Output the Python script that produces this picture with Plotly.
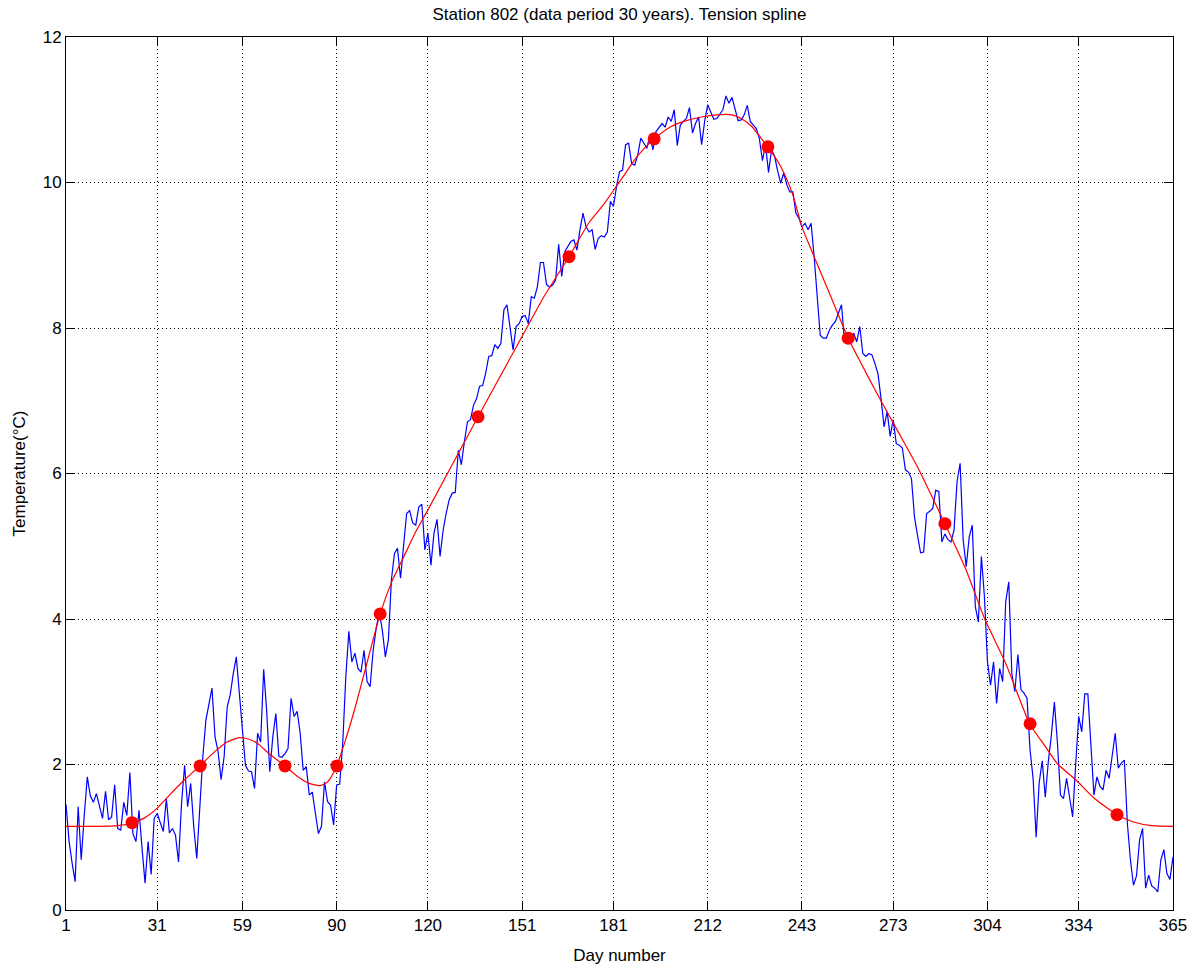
import plotly.graph_objects as go

# Daily temperatures (day 1..365)
daily_temp = [
    1.45, 0.95, 0.65, 0.39, 1.42, 0.69, 1.30, 1.83, 1.57, 1.48,
    1.60, 1.42, 1.26, 1.63, 1.24, 1.28, 1.72, 1.12, 1.10, 1.48,
    1.30, 1.89, 1.05, 0.94, 1.37, 0.85, 0.37, 0.94, 0.49, 1.26,
    1.33, 1.20, 1.08, 1.53, 1.06, 1.12, 1.03, 0.66, 1.47, 1.99,
    1.42, 1.74, 1.15, 0.71, 1.38, 2.11, 2.61, 2.84, 3.05, 2.38,
    2.18, 1.79, 2.11, 2.79, 2.96, 3.25, 3.48, 2.98, 2.45, 1.99,
    1.91, 1.90, 1.67, 2.43, 2.31, 3.31, 2.73, 1.90, 2.38, 2.70,
    2.11, 2.10, 2.15, 2.22, 2.91, 2.66, 2.73, 2.43, 1.92, 1.97,
    1.58, 1.62, 1.33, 1.05, 1.15, 1.76, 1.49, 1.44, 1.17, 1.72,
    1.73, 2.30, 3.20, 3.83, 3.41, 3.53, 3.32, 3.27, 3.57, 3.14,
    3.07, 3.57, 3.87, 4.10, 3.85, 3.48, 3.71, 4.54, 4.90, 4.97,
    4.56, 4.97, 5.45, 5.49, 5.32, 5.29, 5.54, 5.58, 4.95, 5.18,
    4.74, 5.18, 5.37, 4.86, 5.22, 5.45, 5.64, 5.73, 5.74, 6.32,
    6.12, 6.44, 6.71, 6.74, 6.94, 7.03, 7.20, 7.21, 7.38, 7.61,
    7.62, 7.77, 7.72, 7.79, 8.25, 8.32, 8.00, 7.70, 8.02, 8.06,
    8.16, 8.17, 8.06, 8.43, 8.41, 8.57, 8.90, 8.90, 8.60, 8.56,
    8.59, 8.66, 9.15, 8.71, 9.05, 9.12, 9.19, 9.21, 9.07, 9.35,
    9.58, 9.39, 9.32, 9.35, 9.08, 9.23, 9.27, 9.25, 9.32, 9.74,
    9.67, 9.94, 10.15, 10.17, 10.52, 10.54, 10.26, 10.24, 10.38, 10.61,
    10.54, 10.47, 10.65, 10.45, 10.70, 10.75, 10.81, 10.76, 10.90, 10.84,
    11.00, 10.51, 10.79, 10.84, 10.88, 11.03, 10.68, 10.81, 10.90, 10.52,
    10.84, 11.07, 10.97, 10.87, 10.88, 10.95, 11.00, 11.19, 11.09, 11.17,
    11.00, 10.85, 10.86, 10.93, 11.06, 10.84, 10.79, 10.74, 10.60, 10.30,
    10.52, 10.14, 10.45, 10.36, 10.16, 9.99, 10.13, 9.97, 9.87, 9.87,
    9.58, 9.51, 9.39, 9.44, 9.35, 9.44, 8.98, 8.43, 7.90, 7.86,
    7.86, 7.97, 8.04, 8.09, 8.20, 8.32, 7.81, 7.88, 7.79, 7.93,
    7.81, 8.02, 7.65, 7.61, 7.65, 7.63, 7.51, 7.37, 7.03, 6.64,
    6.85, 6.51, 6.74, 6.41, 6.39, 6.35, 6.05, 6.02, 5.93, 5.40,
    5.15, 4.91, 4.92, 5.45, 5.48, 5.52, 5.77, 5.75, 5.06, 5.17,
    5.09, 5.06, 5.22, 5.89, 6.14, 5.09, 4.72, 5.13, 5.29, 4.17,
    3.96, 4.86, 4.30, 3.41, 3.09, 3.41, 2.84, 3.32, 3.14, 4.24,
    4.51, 3.25, 3.00, 3.51, 3.03, 2.98, 2.91, 2.20, 1.81, 1.00,
    1.75, 2.05, 1.55, 2.04, 2.40, 2.86, 2.30, 1.58, 1.53, 1.81,
    1.55, 1.28, 2.00, 2.66, 2.45, 2.97, 2.97, 2.20, 1.58, 1.83,
    1.70, 1.65, 1.92, 1.81, 2.13, 2.43, 1.95, 2.02, 2.06, 1.19,
    0.69, 0.34, 0.47, 0.96, 1.12, 0.30, 0.48, 0.33, 0.30, 0.25,
    0.69, 0.83, 0.50, 0.42, 0.73,
]
days = list(range(1, len(daily_temp) + 1))

# Knot points (red dots)
knot_days = [22.7, 45.1, 73.0, 90.1, 104.3, 136.5, 166.4, 194.4, 231.8, 258.2, 290.0, 318.0, 346.6]
knot_temp = [1.20, 1.98, 1.98, 1.98, 4.07, 6.78, 8.98, 10.60, 10.49, 7.86, 5.31, 2.56, 1.31]

# Tension spline curve, sampled from the chart
spline_days = [1, 10, 18, 23, 27, 31, 35, 40, 45, 50, 54, 58, 61, 64, 68, 73, 77, 81,
               84.5, 87, 90, 93, 96, 100, 104.3, 108, 112, 116, 120, 136.5, 150, 158,
               166.4, 173, 178, 182, 185, 189, 194.4, 200, 205, 210, 215, 220, 223,
               226.5, 229, 231.8, 236, 240, 243, 247, 252, 258.2, 263, 267, 274, 281,
               286, 290, 293, 297, 303, 310, 318, 323, 327, 333, 339, 346.6, 352, 358, 365]
spline_temp = [1.15, 1.15, 1.16, 1.20, 1.27, 1.40, 1.58, 1.79, 1.98, 2.18, 2.31, 2.37,
               2.35, 2.29, 2.14, 1.98, 1.84, 1.74, 1.71, 1.76, 1.98, 2.35, 2.77, 3.40,
               4.07, 4.50, 4.85, 5.20, 5.50, 6.78, 7.81, 8.42, 8.98, 9.45, 9.71, 9.95,
               10.13, 10.37, 10.60, 10.77, 10.85, 10.90, 10.93, 10.93, 10.88, 10.77,
               10.64, 10.49, 10.22, 9.83, 9.39, 8.98, 8.48, 7.86, 7.47, 7.15, 6.62,
               6.09, 5.66, 5.31, 5.04, 4.67, 4.01, 3.39, 2.55, 2.25, 2.01, 1.79, 1.54,
               1.31, 1.21, 1.16, 1.15]

x_ticks = [1, 31, 59, 90, 120, 151, 181, 212, 243, 273, 304, 334, 365]
y_ticks = [0, 2, 4, 6, 8, 10, 12]

FONT = "Liberation Sans, Arial, Helvetica, sans-serif"
FS = 17

fig = go.Figure()
fig.add_trace(go.Scatter(x=days, y=daily_temp, mode="lines",
                         line=dict(color="#0000ff", width=1.2), showlegend=False))
fig.add_trace(go.Scatter(x=spline_days, y=spline_temp, mode="lines",
                         line=dict(color="#ff0000", width=1.2, shape="spline", smoothing=0.6),
                         showlegend=False))
fig.add_trace(go.Scatter(x=knot_days, y=knot_temp, mode="markers",
                         marker=dict(color="#ff0000", size=13, line=dict(width=0)),
                         showlegend=False))

axis_common = dict(
    showline=True, linecolor="black", linewidth=1, mirror="ticks",
    ticks="inside", ticklen=9, tickcolor="black", tickwidth=1,
    showgrid=True, gridcolor="black", gridwidth=1, griddash="1px,3px",
    zeroline=False, tickfont=dict(family=FONT, size=FS, color="black"),
)

fig.update_layout(
    width=1203, height=973,
    margin=dict(l=66, r=30, t=37, b=63),
    paper_bgcolor="white", plot_bgcolor="white",
    font=dict(family=FONT, size=FS, color="black"),
    title=dict(text="Station 802 (data period 30 years). Tension spline",
               x=0.5, xref="paper", xanchor="center",
               y=1 - 14 / 973, yref="container", yanchor="middle",
               font=dict(family=FONT, size=FS, color="black")),
    xaxis=dict(range=[1, 365], tickvals=x_ticks, ticktext=[str(t) for t in x_ticks],
               title=dict(text="Day number", standoff=14,
                          font=dict(family=FONT, size=FS, color="black")),
               **axis_common),
    yaxis=dict(range=[0, 12], tickvals=y_ticks, ticktext=[str(t) for t in y_ticks],
               title=dict(text="Temperature(°C)", standoff=12,
                          font=dict(family=FONT, size=FS, color="black")),
               **axis_common),
)

fig.write_html("out.html")
